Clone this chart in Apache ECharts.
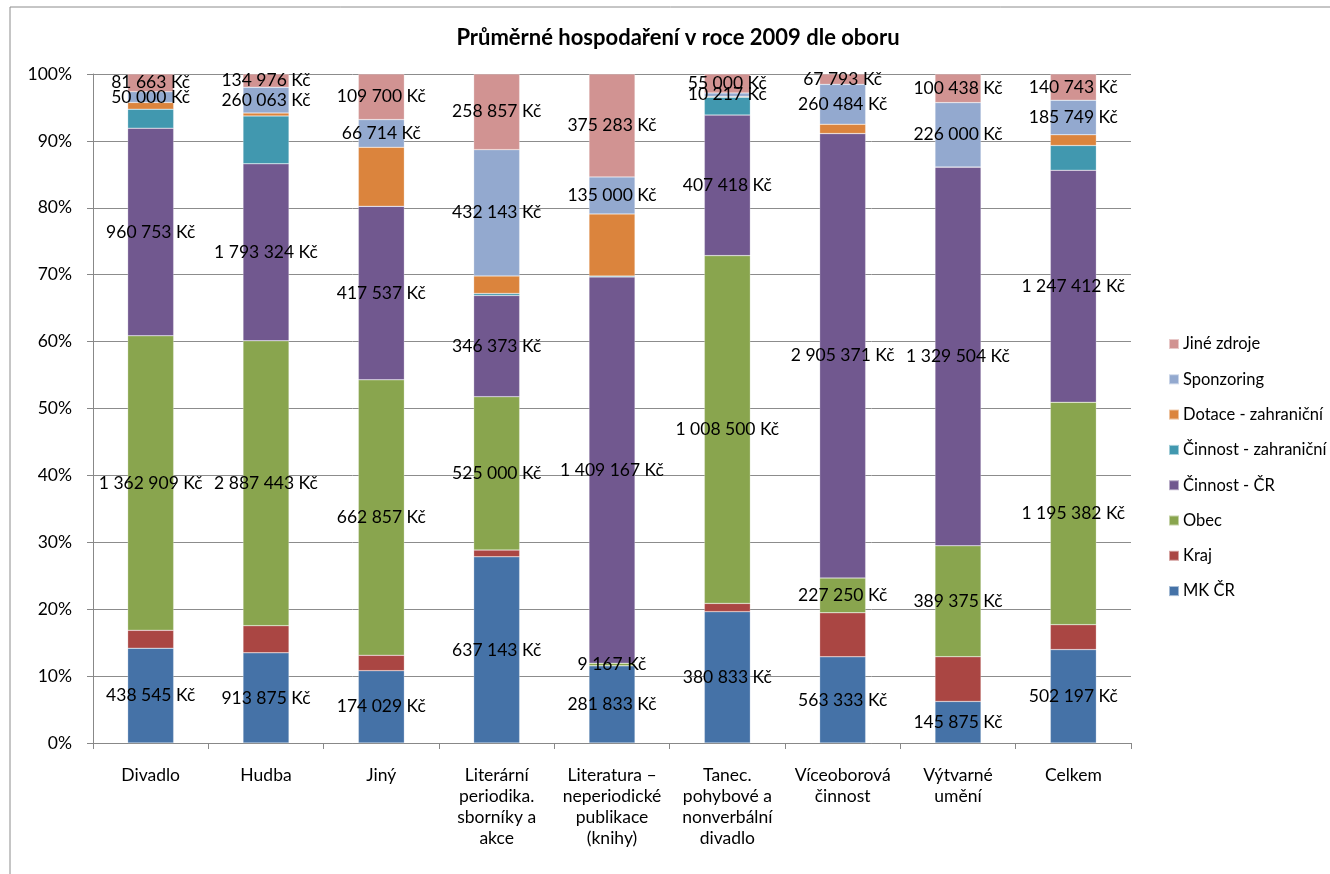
<!DOCTYPE html>
<html>
<head>
<meta charset="utf-8">
<script src="https://cdn.jsdelivr.net/npm/echarts@6/dist/echarts.min.js"></script>
<style>html,body{margin:0;padding:0;background:#fff;}#c{width:1330px;height:874px;}</style>
</head>
<body>
<div id="c"></div>
<script>
const categories = ['Divadlo', 'Hudba', 'Jiný', 'Literární\nperiodika.\nsborníky a\nakce', 'Literatura –\nneperiodické\npublikace\n(knihy)', 'Tanec.\npohybové a\nnonverbální\ndivadlo', 'Víceoborová\nčinnost', 'Výtvarné\numění', 'Celkem'];
const seriesNames = ['MK ČR', 'Kraj', 'Obec', 'Činnost - ČR', 'Činnost - zahraniční', 'Dotace - zahraniční', 'Sponzoring', 'Jiné zdroje'];
const mkCR = [438545, 913875, 174029, 637143, 281833, 380833, 563333, 145875, 502197];
const kraj = [83000, 275000, 37000, 23000, 0, 24000, 288000, 157000, 134000];
const obec = [1362909, 2887443, 662857, 525000, 9167, 1008500, 227250, 389375, 1195382];
const cinnostCR = [960753, 1793324, 417537, 346373, 1409167, 407418, 2905371, 1329504, 1247412];
const cinnostZahr = [88000, 485000, 0, 7000, 3000, 52000, 0, 0, 133000];
const dotaceZahr = [31000, 30000, 142000, 60000, 227000, 2000, 61000, 0, 58000];
const sponzoring = [50000, 260063, 66714, 432143, 135000, 10217, 260484, 226000, 185749];
const jine = [81663, 134976, 109700, 258857, 375283, 55000, 67793, 100438, 140743];
const yTicks = ['0%', '10%', '20%', '30%', '40%', '50%', '60%', '70%', '80%', '90%', '100%'];

const allValues = [mkCR, kraj, obec, cinnostCR, cinnostZahr, dotaceZahr, sponzoring, jine];
const labelled = [true, false, true, true, false, false, true, true];
const colors = ['#4572A7', '#AA4643', '#89A54E', '#71588F', '#4198AF', '#DB843D', '#93A9CF', '#D19392'];
const FONT = 'Lato';

const totals = categories.map((_, i) => allValues.reduce((s, arr) => s + arr[i], 0));
function fmt(v) {
  return String(v).replace(/\B(?=(\d{3})+(?!\d))/g, ' ') + ' Kč';
}

const series = allValues.map((arr, si) => ({
  name: seriesNames[si],
  type: 'bar',
  stack: 'total',
  barWidth: 46,
  itemStyle: { color: colors[si], borderColor: 'rgba(255,255,255,0.5)', borderWidth: 0.5 },
  label: {
    show: labelled[si],
    position: 'inside',
    color: '#000',
    fontFamily: FONT,
    fontSize: 17.5,
    formatter: p => arr[p.dataIndex] > 0 ? fmt(arr[p.dataIndex]) : ''
  },
  data: arr.map((v, i) => v / totals[i] * 100)
}));

const chart = echarts.init(document.getElementById('c'), null, { renderer: 'canvas' });
chart.setOption({
  animation: false,
  backgroundColor: '#fff',
  textStyle: { fontFamily: FONT },
  graphic: [
    { type: 'rect', shape: { x: 10, y: 7, width: 1500, height: 1000 }, style: { fill: 'none', stroke: '#8c8c8c', lineWidth: 1 }, silent: true, z: -10 },
    { type: 'text', x: 678, y: 38, style: { text: 'Průměrné hospodaření v roce 2009 dle oboru', font: 'bold 22px Lato', fill: '#000', textAlign: 'center', textVerticalAlign: 'middle' } }
  ],
  grid: { left: 93, right: 199, top: 74, bottom: 131 },
  legend: {
    orient: 'vertical',
    left: 1163,
    top: 329,
    itemWidth: 10,
    itemHeight: 10,
    itemGap: 15.3,
    icon: 'rect',
    data: seriesNames.slice().reverse(),
    textStyle: { fontFamily: FONT, fontSize: 16.5, color: '#000', lineHeight: 20, padding: [0, 0, 0, -1] }
  },
  xAxis: {
    type: 'category',
    data: categories,
    axisLine: { lineStyle: { color: '#888', width: 1 } },
    axisTick: { show: true, length: 6, lineStyle: { color: '#888' } },
    axisLabel: { interval: 0, margin: 22, color: '#000', fontFamily: FONT, fontSize: 17.5, lineHeight: 21, align: 'center' }
  },
  yAxis: {
    type: 'value',
    min: 0,
    max: 100,
    interval: 10,
    axisLine: { show: true, lineStyle: { color: '#888', width: 1 } },
    axisTick: { show: true, length: 6, lineStyle: { color: '#888' } },
    splitLine: { show: true, lineStyle: { color: '#8c8c8c', width: 1 } },
    axisLabel: { margin: 21, color: '#000', fontFamily: FONT, fontSize: 17.5, formatter: v => yTicks[Math.round(v / 10)] }
  },
  series: series
});
</script>
</body>
</html>
